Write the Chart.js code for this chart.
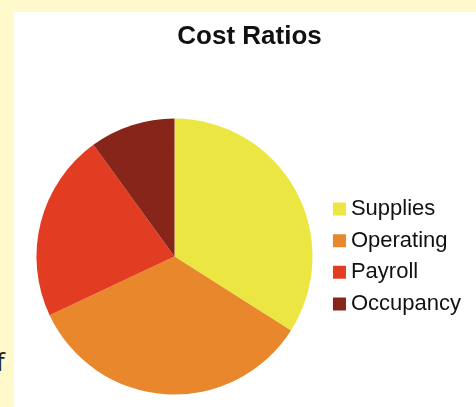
<!DOCTYPE html>
<html>
<head>
<meta charset="utf-8">
<script src="https://cdn.jsdelivr.net/npm/chart.js@4.4.1/dist/chart.umd.min.js"></script>
<style>
  html, body { margin: 0; padding: 0; }
  body { width: 476px; height: 407px; background: #fff9cc; position: relative; overflow: hidden; }
  #panel { position: absolute; left: 14px; top: 12px; width: 462px; height: 395px; background: #ffffff; }
  #wrap { position: absolute; left: 0; top: 0; width: 476px; height: 407px; }
  #crop { position: absolute; left: -4px; top: 346px; font-family: "Open Sans", "Noto Sans", sans-serif; font-size: 26px; color: #222; line-height: 30px; }
</style>
</head>
<body>
<div id="panel"></div>
<div id="crop">f</div>
<div id="wrap"><canvas id="c" width="476" height="407"></canvas></div>
<script>
const categories = ["Supplies", "Operating", "Payroll", "Occupancy"];
const costShares = [34, 34, 22, 10];
const sliceColors = ["#ece642", "#e8872c", "#e23c22", "#88251a"];
const chartTitle = "Cost Ratios";

const titleShift = {
  id: 'titleShift',
  afterLayout(chart) {
    const t = chart.titleBlock;
    if (t) { t.left += 4.2; t.right += 4.2; }
  }
};

new Chart(document.getElementById('c'), {
  type: 'pie',
  data: {
    labels: categories,
    datasets: [{
      data: costShares,
      backgroundColor: sliceColors,
      borderWidth: 0,
      hoverOffset: 0
    }]
  },
  plugins: [titleShift],
  options: {
    responsive: false,
    animation: false,
    events: [],
    layout: { padding: { left: 19.7, right: 5, top: 12, bottom: 12.5 } },
    plugins: {
      tooltip: { enabled: false },
      title: {
        display: true,
        text: chartTitle,
        color: '#111111',
        font: { family: '"Liberation Sans", Arial, sans-serif', size: 26, weight: 'bold' },
        padding: { top: 8.9, bottom: 66.4 }
      },
      legend: {
        position: 'right',
        fullSize: false,
        labels: {
          color: '#111111',
          font: { family: '"Liberation Sans", Arial, sans-serif', size: 22 },
          usePointStyle: true,
          pointStyle: 'rect',
          boxWidth: 1,
          boxHeight: 13,
          padding: 9.7
        }
      }
    }
  }
});
</script>
</body>
</html>
